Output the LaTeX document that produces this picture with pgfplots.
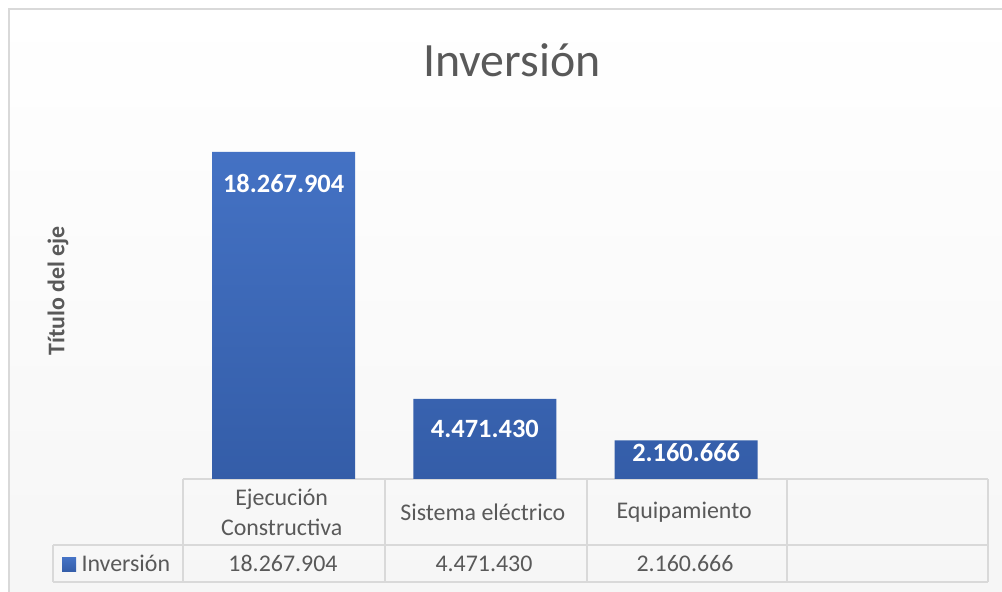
\documentclass[border=0pt]{standalone}
\usepackage{pgfplots}
\pgfplotsset{compat=1.18}
\usepackage{fontspec}
\setmainfont{Carlito}
\definecolor{txt}{HTML}{595959}
\definecolor{gridc}{HTML}{D9D9D9}
\definecolor{bartop}{RGB}{68,114,196}
\definecolor{barbot}{RGB}{52,93,168}
\definecolor{bgmid}{HTML}{D9D9D9}
\definecolor{bgbot}{HTML}{F6F6F6}
\begin{document}
\begin{tikzpicture}[x=1bp,y=1bp]
\path[use as bounding box] (0,0) rectangle (1002,592);
\fill[white] (0,0) rectangle (1002,592);
\shade[top color=white, middle color=bgmid, bottom color=bgbot] (9,0) rectangle (1002,583);
\draw[gridc, line width=1.5bp] (9,0) -- (9,583) -- (1002,583);
% title
\node[anchor=base, text=txt, font=\fontsize{48}{48}\selectfont] at (512,515) {Inversión};
% axis title
\node[rotate=90, text=txt, font=\bfseries\fontsize{24}{24}\selectfont] at (58,301) {Título del eje};
% table lines
\begin{scope}[gridc, line width=1.5bp]
\draw (183,113) -- (988,113);
\draw (53,47) -- (988,47);
\draw (53,10) -- (988,10);
\foreach \xx in {183,385,587,787,988} {\draw (\xx,10) -- (\xx,113);}
\draw (53,10) -- (53,47);
\end{scope}
\begin{axis}[
  at={(183bp,113bp)}, anchor=south west,
  scale only axis, width=805bp, height=358bp,
  xmin=-0.5, xmax=3.5, ymin=0, ymax=20000000,
  axis line style={draw=none},
  major tick length=0pt,
  ytick=\empty,
  xtick={0,1,2},
  xticklabels={{Ejecución\\Constructiva},{Sistema eléctrico},{Equipamiento}},
  xticklabel style={align=center, font=\fontsize{24}{30}\selectfont, text=txt, anchor=center, yshift=-33bp, xshift=-2bp},
  clip=false,
]
\addplot[ybar, bar width=143bp, draw=none, top color=bartop, bottom color=barbot,
  nodes near coords, point meta=explicit symbolic,
  visualization depends on={value \thisrow{sh} \as \myshift},
  every node near coord/.append style={anchor=center, yshift=\myshift bp, text=white, font=\bfseries\fontsize{26.5}{26.5}\selectfont}]
  table[x=x, y=y, meta=lab] {
x y lab sh
0 18267904 18.267.904 -31
1 4471430 4.471.430 -30
2 2160666 2.160.666 -12
};
\end{axis}
% data row
\begin{scope}[every node/.style={anchor=base, text=txt, font=\fontsize{24}{24}\selectfont}]
\node at (283,20) {18.267.904};
\node at (484,20) {4.471.430};
\node at (685,20) {2.160.666};
\node[anchor=base west] at (78,20) {Inversión};
\end{scope}
\shade[top color=bartop, bottom color=barbot] (62,20) rectangle (76,34);
\end{tikzpicture}
\end{document}
